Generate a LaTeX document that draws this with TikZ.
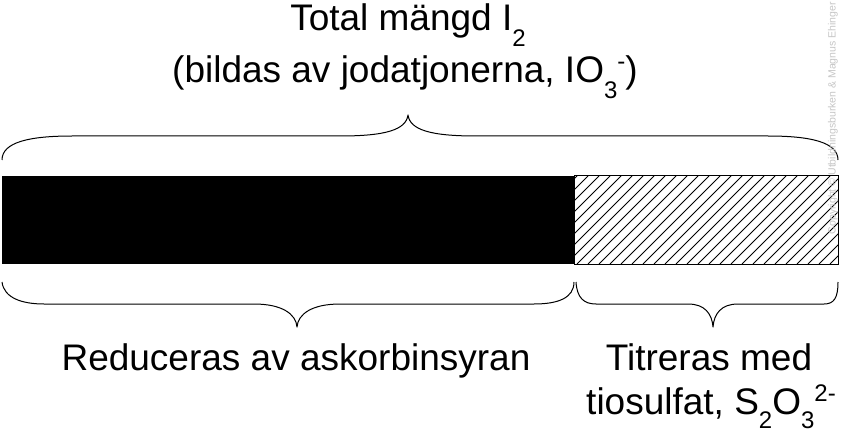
\documentclass[tikz,border=0pt]{standalone}
\usepackage{fontspec}
\setmainfont{Liberation Sans}
\newcommand\mysub[1]{\raisebox{-16pt}{\fontsize{24}{24}\selectfont #1}}
\newcommand\mysubb[1]{\raisebox{-14.5pt}{\fontsize{24}{24}\selectfont #1}}
\newcommand\mysup[1]{\raisebox{13pt}{\fontsize{24}{24}\selectfont #1}}
\begin{document}
\begin{tikzpicture}[x=1pt,y=-1pt,
  lbl/.style={anchor=base,inner sep=0pt,font=\fontsize{37}{37}\selectfont},
  brace/.style={line width=1pt,line join=round},
  hatch/.style={line width=0.8pt}]
\useasboundingbox (0,0) rectangle (841,433);
% bar
\coordinate (bl) at (2,176);
\coordinate (bm) at (574,264);
\coordinate (hl) at (574,176);
\coordinate (hr) at (838,264);
\fill[black] (bl) rectangle (bm);
\begin{scope}
\clip (hl) rectangle (hr);
\foreach \x in {478,489,...,850} \draw[hatch] (\x,264) -- ++(88,-88);
\end{scope}
\draw[line width=1pt] (hl) rectangle (hr);
% top brace
\draw[brace] (2,160) .. controls (2,142) and (30,136) .. (72,136) -- (340,136)
  .. controls (385,136) and (406,130) .. (408,115)
  .. controls (410,130) and (431,136) .. (476,136) -- (768,136)
  .. controls (810,136) and (838,142) .. (838,160);
% bottom left brace
\draw[brace] (2,282) .. controls (4,298) and (22,304) .. (44,304) -- (254,304)
  .. controls (282,304) and (296,314) .. (297,327)
  .. controls (298,314) and (312,304) .. (340,304) -- (534,304)
  .. controls (558,304) and (574,298) .. (574,282);
% bottom right brace
\draw[brace] (576,282) .. controls (577,298) and (584,304) .. (596,304) -- (688,304)
  .. controls (705,304) and (712,314) .. (713,327)
  .. controls (714,314) and (721,304) .. (738,304) -- (824,304)
  .. controls (834,304) and (838,298) .. (838,282);
% texts
\node[lbl] (t1) at (408,31) {Total mängd I\mysub{2}};
\node[lbl] (t2) at (405,83) {(bildas av jodatjonerna, IO\mysub{3}\mysup{-})};
\node[lbl] (t3) at (296,370) {Reduceras av askorbinsyran};
\node[lbl] (t4) at (709,370) {Titreras med};
\node[lbl] (t5) at (711,414) {tiosulfat, S\mysubb{2}O\mysubb{3}\mysup{2-}};
\node[rotate=90,anchor=east,inner sep=0pt,text=gray!45,font=\fontsize{10.5}{10.5}\selectfont] (wm) at (833,2) {Copyright © Utbildningsburken \& Magnus Ehinger};
\end{tikzpicture}
\end{document}
